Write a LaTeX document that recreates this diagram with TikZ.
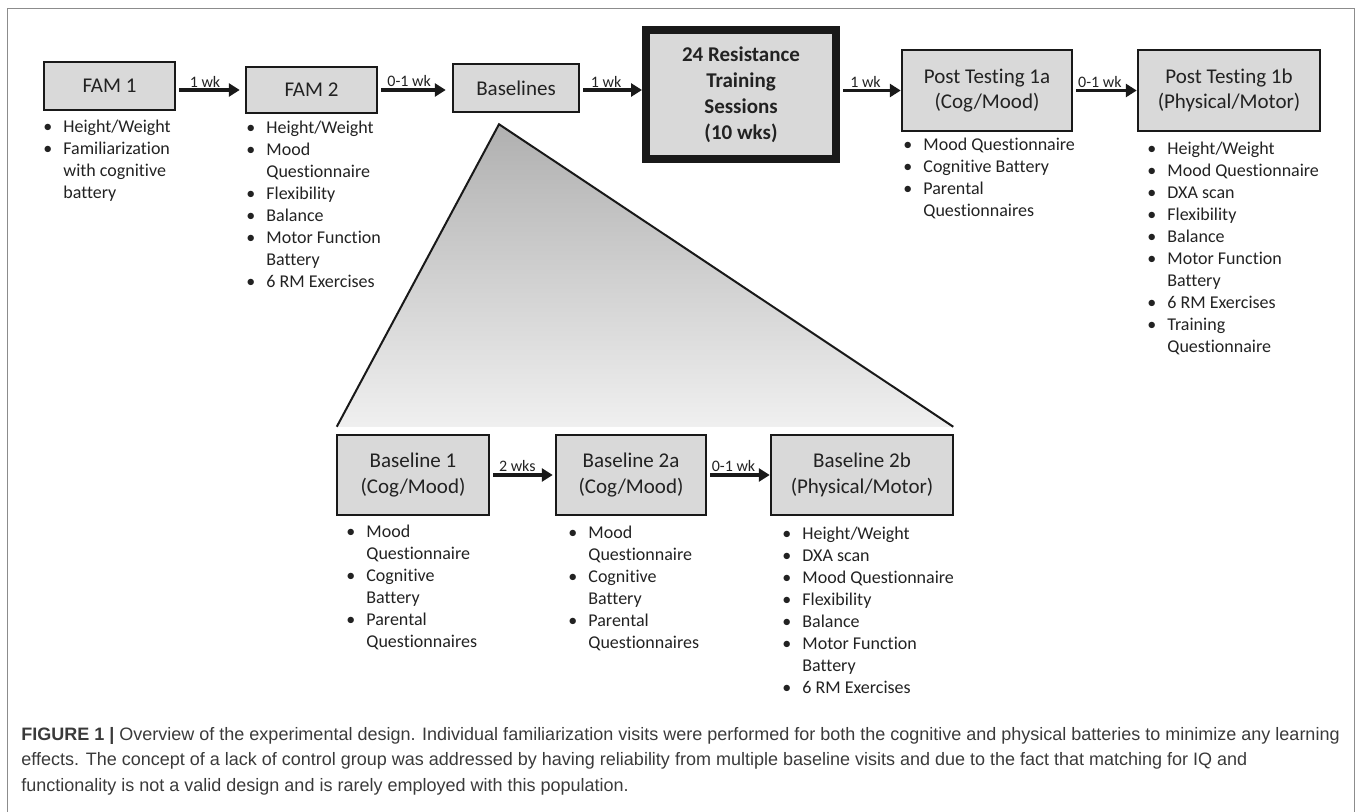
\documentclass[tikz,border=0pt]{standalone}
\usepackage{fontspec}
\setmainfont{Carlito}[Ligatures=NoCommon]
\newfontfamily\capfont{Liberation Sans}
\usetikzlibrary{arrows.meta, calc}

\definecolor{boxgray}{HTML}{D9D9D9}
\definecolor{framegray}{HTML}{8C8C8C}
\definecolor{inkgray}{HTML}{222222}
\definecolor{capgray}{HTML}{3A3A3A}

% bullet item, its wrapped continuation, and a list hung from its first line
\newcommand{\itm}[1]{\makebox[10pt][l]{\textbullet}#1}
\newcommand{\cnt}[1]{\hspace*{10pt}#1}
\newcommand{\measures}[1]{\begin{tabular}[t]{@{}l@{}}#1\end{tabular}}

\begin{document}
\begin{tikzpicture}[x=0.5pt, y=-0.5pt,
    stage/.style={draw=black!90, line width=1.25pt, fill=boxgray, align=center,
        inner sep=0pt, text=inkgray, font=\fontsize{10.5}{12.8}\selectfont},
    trainbox/.style={stage, line width=4pt, font=\bfseries\fontsize{10.5}{13}\selectfont},
    arr/.style={-{Triangle[length=5.5pt,width=6.5pt]}, line width=1.7pt, black!90,
        shorten <=1.5pt},
    wk/.style={above=0.6pt, pos=0.42, inner sep=0pt, text=inkgray,
        font=\fontsize{8}{9}\selectfont},
    bullets/.style={anchor=base west, inner sep=0pt, text=inkgray,
        font=\fontsize{9}{11}\selectfont},
]
    \useasboundingbox (0,0) rectangle (1358,812);

    % ============================================================
    % FIGURE FRAME (open at the bottom)
    % ============================================================
    \draw[framegray, line width=0.8pt]
        (7.5,830) -- (7.5,8.5) -- (1354.5,8.5) -- (1354.5,830);

    % ============================================================
    % TOP ROW OF VISITS
    % ============================================================
    \node[stage, minimum width=65.5pt, minimum height=24pt] (fam1) at (109.5,86) {FAM 1};
    \node[stage, minimum width=65.5pt, minimum height=23pt] (fam2) at (311.5,90) {FAM 2};
    \node[stage, minimum width=63pt, minimum height=24pt] (base) at (516,88) {Baselines};
    \node[trainbox, minimum width=95pt, minimum height=64.5pt] (train) at (741,94.5)
        {24 Resistance\\Training\\Sessions\\(10 wks)};
    \node[stage, minimum width=85pt, minimum height=40.5pt] (post1a) at (987,90.5)
        {Post Testing 1a\\(Cog/Mood)};
    \node[stage, minimum width=91pt, minimum height=40.5pt] (post1b) at (1229,90.5)
        {Post Testing 1b\\(Physical/Motor)};

    \draw[arr, shorten >=2.5pt] (fam1.east |- fam2.west) -- (fam2.west) node[wk] {1 wk};
    \draw[arr, shorten >=3pt] (fam2.east) -- (fam2.east -| base.west) node[wk] {0-1 wk};
    \draw[arr] (base.east |- fam2.west) -- (fam2.west -| train.west) node[wk] {1 wk};
    \draw[arr] (train.east |- post1a.west) -- (post1a.west) node[wk] {1 wk};
    \draw[arr] (post1a.east) -- (post1b.west) node[wk] {0-1 wk};

    % ============================================================
    % ZOOM OF THE BASELINES
    % ============================================================
    \node[stage, minimum width=76pt, minimum height=40pt] (bl1) at (413,475)
        {Baseline 1\\(Cog/Mood)};
    \node[stage, minimum width=75pt, minimum height=40pt] (bl2a) at (631,475)
        {Baseline 2a\\(Cog/Mood)};
    \node[stage, minimum width=91pt, minimum height=40pt] (bl2b) at (862,475)
        {Baseline 2b\\(Physical/Motor)};

    \coordinate (apex) at ($(base.south)+(-17,11)$);
    \coordinate (tl) at ($(bl1.north west)+(1,-7)$);
    \coordinate (tr) at ($(bl2b.north east)+(-1,-7)$);
    \shade[top color=gray!62, bottom color=gray!12] (apex) -- (tl) -- (tr) -- cycle;
    \draw[line width=1pt, black!90] (tl) -- (apex) -- (tr);

    \draw[arr, shorten >=1pt] (bl1.east) -- (bl2a.west) node[wk] {2 wks};
    \draw[arr] (bl2a.east) -- (bl2b.west) node[wk] {0-1 wk};

    % ============================================================
    % MEASURES PER VISIT
    % ============================================================
    \node[bullets] (m-fam1) at (43,133) {\measures{%
        \itm{Height/Weight}\\\itm{Familiarization}\\\cnt{with cognitive}\\\cnt{battery}}};
    \node[bullets] (m-fam2) at (246,134) {\measures{%
        \itm{Height/Weight}\\\itm{Mood}\\\cnt{Questionnaire}\\\itm{Flexibility}\\
        \itm{Balance}\\\itm{Motor Function}\\\cnt{Battery}\\\itm{6 RM Exercises}}};
    \node[bullets] (m-post1a) at (903,151) {\measures{%
        \itm{Mood Questionnaire}\\\itm{Cognitive Battery}\\\itm{Parental}\\
        \cnt{Questionnaires}}};
    \node[bullets] (m-post1b) at (1147,155) {\measures{%
        \itm{Height/Weight}\\\itm{Mood Questionnaire}\\\itm{DXA scan}\\\itm{Flexibility}\\
        \itm{Balance}\\\itm{Motor Function}\\\cnt{Battery}\\\itm{6 RM Exercises}\\
        \itm{Training}\\\cnt{Questionnaire}}};
    \node[bullets] (m-bl1) at (346,537) {\measures{%
        \itm{Mood}\\\cnt{Questionnaire}\\\itm{Cognitive}\\\cnt{Battery}\\\itm{Parental}\\
        \cnt{Questionnaires}}};
    \node[bullets] (m-bl2a) at (568,538) {\measures{%
        \itm{Mood}\\\cnt{Questionnaire}\\\itm{Cognitive}\\\cnt{Battery}\\\itm{Parental}\\
        \cnt{Questionnaires}}};
    \node[bullets] (m-bl2b) at (782,539) {\measures{%
        \itm{Height/Weight}\\\itm{DXA scan}\\\itm{Mood Questionnaire}\\\itm{Flexibility}\\
        \itm{Balance}\\\itm{Motor Function}\\\cnt{Battery}\\\itm{6 RM Exercises}}};

    % ============================================================
    % CAPTION
    % ============================================================
    \node[anchor=base west, inner sep=0pt, text=capgray,
        font=\capfont\fontsize{9}{12.8}\selectfont] (caption) at (21,740) {\measures{%
        {\bfseries FIGURE 1 |} Overview of the experimental design. Individual familiarization
        visits were performed for both the cognitive and physical batteries to minimize any learning\\
        effects. The concept of a lack of control group was addressed by having reliability from
        multiple baseline visits and due to the fact that matching for IQ and\\
        functionality is not a valid design and is rarely employed with this population.}};

\end{tikzpicture}
\end{document}
